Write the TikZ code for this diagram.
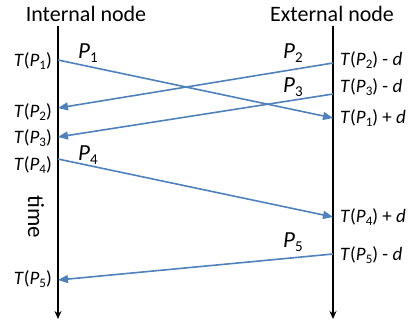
\documentclass[tikz,border=0pt]{standalone}
\usepackage{fontspec}
\setmainfont{Carlito}
\usetikzlibrary{arrows.meta}
\definecolor{msgblue}{RGB}{79,129,189}
\newcommand\tsub[1]{\raisebox{-0.35ex}{\fontsize{13}{13}\selectfont #1}}
\newcommand\psub[1]{\raisebox{-0.4ex}{\fontsize{15}{15}\selectfont #1}}
\newcommand\TP[1]{\textit{T}(\textit{P}\tsub{#1})}
\tikzset{
  lbl/.style={inner sep=0pt, font=\fontsize{19}{22}\selectfont},
  lleft/.style={lbl, anchor=base east},
  lright/.style={lbl, anchor=base west},
  plbl/.style={inner sep=0pt, anchor=base west, font=\fontsize{23}{26}\selectfont},
  title/.style={inner sep=0pt, anchor=base, font=\fontsize{22}{26}\selectfont},
  timeline/.style={line width=2pt, -{Stealth[length=8pt,width=7pt]}},
  msg/.style={draw=msgblue, line width=1.6pt, -{Triangle[length=10pt,width=8pt]}, fill=none},
}
\begin{document}
\begin{tikzpicture}[x=1pt,y=-1pt]
\useasboundingbox (0,0) rectangle (414,324);
% titles
\node[title] (tin) at (86,21) {Internal node};
\node[title] (tex) at (332,21) {External node};
% timelines
\coordinate (ltop) at (58,26);
\coordinate (lbot) at (58,319);
\coordinate (rtop) at (333,26);
\coordinate (rbot) at (333,319);
\draw[timeline] (ltop) -- (lbot);
\draw[timeline] (rtop) -- (rbot);
\node[inner sep=0pt, rotate=-90, font=\fontsize{23}{26}\selectfont] (time) at (36,217) {time};
% endpoints
\coordinate (L1) at (58,60);
\coordinate (L2) at (58,108);
\coordinate (L3) at (58,137);
\coordinate (L4) at (58,159);
\coordinate (L5) at (58,280);
\coordinate (R2) at (333,63);
\coordinate (R3) at (333,94);
\coordinate (R1) at (333,118);
\coordinate (R4) at (333,217);
\coordinate (R5) at (333,254);
% messages
\draw[msg] (L1) -- (R1);
\draw[msg] (R2) -- (L2);
\draw[msg] (R3) -- (L3);
\draw[msg] (L4) -- (R4);
\draw[msg] (R5) -- (L5);
% message labels
\node[plbl] (p1) at (78,58) {\textit{P}\psub{1}};
\node[plbl] (p2) at (283,58) {\textit{P}\psub{2}};
\node[plbl] (p3) at (283,92) {\textit{P}\psub{3}};
\node[plbl] (p4) at (78,160) {\textit{P}\psub{4}};
\node[plbl] (p5) at (283,247) {\textit{P}\psub{5}};
% left time labels
\node[lleft] (t1) at (52,66) {\TP{1}};
\node[lleft] (t2) at (52,117) {\TP{2}};
\node[lleft] (t3) at (52,143) {\TP{3}};
\node[lleft] (t4) at (52,170) {\TP{4}};
\node[lleft] (t5) at (52,284) {\TP{5}};
% right time labels
\node[lright] (e2) at (340,65) {\TP{2} - \textit{d}};
\node[lright] (e3) at (340,92) {\TP{3} - \textit{d}};
\node[lright] (e1) at (340,123) {\TP{1} + \textit{d}};
\node[lright] (e4) at (340,222) {\TP{4} + \textit{d}};
\node[lright] (e5) at (340,260) {\TP{5} - \textit{d}};
\end{tikzpicture}
\end{document}
